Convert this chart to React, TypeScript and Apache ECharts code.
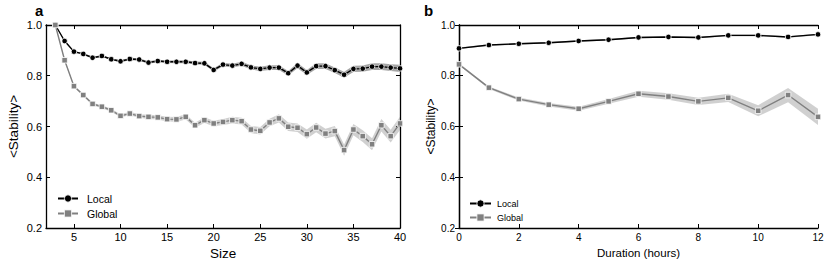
import React, { useEffect, useRef } from "react";
import * as echarts from "echarts";

// ---------- Panel a: stability vs size ----------
const sizeValues = [3, 4, 5, 6, 7, 8, 9, 10, 11, 12, 13, 14, 15, 16, 17, 18, 19, 20, 21, 22, 23, 24, 25, 26, 27, 28, 29, 30, 31, 32, 33, 34, 35, 36, 37, 38, 39, 40];
const localBySize = [1.0, 0.937, 0.895, 0.886, 0.871, 0.878, 0.865, 0.857, 0.866, 0.864, 0.852, 0.858, 0.855, 0.855, 0.855, 0.85, 0.849, 0.823, 0.844, 0.84, 0.847, 0.833, 0.827, 0.832, 0.832, 0.81, 0.84, 0.813, 0.838, 0.838, 0.822, 0.804, 0.827, 0.828, 0.836, 0.836, 0.832, 0.829];
const localBySizeErr = [0.002, 0.003, 0.003, 0.004, 0.004, 0.004, 0.004, 0.004, 0.005, 0.005, 0.005, 0.005, 0.005, 0.006, 0.006, 0.006, 0.006, 0.007, 0.007, 0.007, 0.008, 0.008, 0.008, 0.009, 0.009, 0.009, 0.01, 0.01, 0.011, 0.011, 0.011, 0.012, 0.012, 0.012, 0.013, 0.013, 0.013, 0.014];
const globalBySize = [1.0, 0.861, 0.759, 0.724, 0.689, 0.678, 0.664, 0.642, 0.651, 0.641, 0.638, 0.636, 0.629, 0.628, 0.638, 0.605, 0.625, 0.612, 0.618, 0.625, 0.621, 0.588, 0.583, 0.616, 0.632, 0.599, 0.595, 0.57, 0.596, 0.572, 0.582, 0.507, 0.588, 0.562, 0.53, 0.605, 0.562, 0.612];
const globalBySizeErr = [0.002, 0.004, 0.004, 0.005, 0.005, 0.006, 0.006, 0.006, 0.007, 0.007, 0.008, 0.008, 0.009, 0.009, 0.01, 0.01, 0.011, 0.011, 0.012, 0.013, 0.013, 0.014, 0.015, 0.015, 0.016, 0.017, 0.017, 0.018, 0.019, 0.019, 0.02, 0.022, 0.022, 0.023, 0.024, 0.025, 0.025, 0.026];
const sizeTicks = [5, 10, 15, 20, 25, 30, 35, 40];

// ---------- Panel b: stability vs duration ----------
const durationHours = [0, 1, 2, 3, 4, 5, 6, 7, 8, 9, 10, 11, 12];
const localByDuration = [0.908, 0.921, 0.926, 0.93, 0.937, 0.942, 0.951, 0.953, 0.951, 0.959, 0.959, 0.953, 0.963];
const localByDurationErr = [0.003, 0.003, 0.003, 0.003, 0.003, 0.003, 0.003, 0.003, 0.003, 0.003, 0.003, 0.003, 0.003];
const globalByDuration = [0.845, 0.753, 0.708, 0.686, 0.67, 0.699, 0.729, 0.718, 0.699, 0.713, 0.662, 0.724, 0.638];
const globalByDurationErr = [0.004, 0.005, 0.006, 0.007, 0.008, 0.009, 0.012, 0.013, 0.014, 0.016, 0.022, 0.028, 0.032];

const FONT = "'Liberation Sans', Arial, Helvetica, sans-serif";
const LOCAL_COLOR = "#000000";
const GLOBAL_COLOR = "#808080";

function band(xs: number[], ys: number[], errs: number[], axisIdx: number, fill: string, name: string) {
  return {
    type: "custom",
    name,
    silent: true,
    xAxisIndex: axisIdx,
    yAxisIndex: axisIdx,
    z: 1,
    data: xs.map((x, i) => [x, ys[i] - errs[i], ys[i] + errs[i]]),
    encode: { x: 0, y: [1, 2] },
    renderItem: (params: any, api: any) => {
      if (params.dataIndex !== 0) return null;
      const upper = xs.map((x, i) => api.coord([x, ys[i] + errs[i]]));
      const lower = xs.map((x, i) => api.coord([x, ys[i] - errs[i]])).reverse();
      return {
        type: "polygon",
        shape: { points: upper.concat(lower) },
        style: { fill },
        silent: true,
      };
    },
  };
}

function lineSeries(name: string, xs: number[], ys: number[], axisIdx: number, color: string, symbol: string, size: number) {
  return {
    type: "line",
    name,
    xAxisIndex: axisIdx,
    yAxisIndex: axisIdx,
    data: xs.map((x, i) => [x, ys[i]]),
    symbol,
    symbolSize: size,
    showSymbol: true,
    z: 3,
    lineStyle: { color, width: 1.4 },
    itemStyle: { color, borderColor: "#ffffff", borderWidth: 0.8 },
    emphasis: { disabled: true },
  };
}

const axisLineStyle = { show: true, lineStyle: { color: "#000", width: 1.3 } };

export default function App() {
  const ref = useRef<HTMLDivElement>(null);
  useEffect(() => {
    if (!ref.current) return;
    const chart = echarts.init(ref.current, undefined, { renderer: "svg" });
    const yAxisBase = (gridIndex: number, position: string, showLabel: boolean, fontSize: number, name?: string, nameSize?: number, nameGap?: number) => ({
      type: "value",
      gridIndex,
      position,
      min: 0.2,
      max: 1.0,
      interval: 0.2,
      axisLine: axisLineStyle,
      axisTick: { show: true, inside: true, length: 4, lineStyle: { color: "#000", width: 1 } },
      splitLine: { show: false },
      axisLabel: {
        show: showLabel,
        fontFamily: FONT,
        fontSize,
        color: "#000",
        margin: 4,
        formatter: (v: number) => v.toFixed(1),
      },
      name: name || "",
      nameLocation: "middle",
      nameGap: nameGap || 0,
      nameTextStyle: { fontFamily: FONT, fontSize: nameSize || 12, color: "#000" },
    });
    const legendIcon = { borderColor: "#ffffff", borderWidth: 0.8 };
    const option: any = {
      animation: false,
      backgroundColor: "#ffffff",
      textStyle: { fontFamily: FONT },
      title: [
        { text: "a", left: 35, top: 3, padding: 0, textStyle: { fontFamily: FONT, fontSize: 15, fontWeight: "bold", color: "#000" } },
        { text: "b", left: 424, top: 3, padding: 0, textStyle: { fontFamily: FONT, fontSize: 15, fontWeight: "bold", color: "#000" } },
      ],
      grid: [
        { left: 46, right: 431, top: 25, bottom: 39 },
        { left: 459, right: 13, top: 25, bottom: 39 },
      ],
      legend: [
        {
          left: 52,
          top: 187,
          orient: "vertical",
          itemWidth: 20,
          itemHeight: 9,
          itemGap: 2,
          selectedMode: false,
          itemStyle: legendIcon,
          data: ["Local", "Global"],
          textStyle: { fontFamily: FONT, fontSize: 10.5, color: "#000", lineHeight: 13, padding: [0, 0, 0, 4] },
        },
        {
          left: 464,
          top: 193,
          orient: "vertical",
          itemWidth: 21,
          itemHeight: 9,
          itemGap: 3,
          selectedMode: false,
          itemStyle: legendIcon,
          data: ["Local", "Global"],
          textStyle: { fontFamily: FONT, fontSize: 9, color: "#000", lineHeight: 11, padding: [0, 0, 0, 1] },
        },
      ],
      xAxis: [
        {
          type: "value",
          gridIndex: 0,
          position: "bottom",
          min: 2,
          max: 40,
          axisLine: axisLineStyle,
          axisTick: { show: true, inside: true, length: 4, customValues: sizeTicks, lineStyle: { color: "#000", width: 1 } },
          axisLabel: { show: true, customValues: sizeTicks, fontFamily: FONT, fontSize: 11, color: "#000", margin: 3 },
          splitLine: { show: false },
          name: "Size",
          nameLocation: "middle",
          nameGap: 18,
          nameTextStyle: { fontFamily: FONT, fontSize: 13.5, color: "#000" },
        },
        {
          type: "value",
          gridIndex: 0,
          position: "top",
          min: 2,
          max: 40,
          axisLine: axisLineStyle,
          axisTick: { show: true, inside: true, length: 4, customValues: sizeTicks, lineStyle: { color: "#000", width: 1 } },
          axisLabel: { show: false },
          splitLine: { show: false },
        },
        {
          type: "value",
          gridIndex: 1,
          position: "bottom",
          min: 0,
          max: 12,
          interval: 2,
          axisLine: axisLineStyle,
          axisTick: { show: true, inside: true, length: 4, lineStyle: { color: "#000", width: 1 } },
          axisLabel: { show: true, fontFamily: FONT, fontSize: 10, color: "#000", margin: 4 },
          splitLine: { show: false },
          name: "Duration (hours)",
          nameLocation: "middle",
          nameGap: 19,
          nameTextStyle: { fontFamily: FONT, fontSize: 11.5, color: "#000" },
        },
        {
          type: "value",
          gridIndex: 1,
          position: "top",
          min: 0,
          max: 12,
          interval: 2,
          axisLine: axisLineStyle,
          axisTick: { show: true, inside: true, length: 4, lineStyle: { color: "#000", width: 1 } },
          axisLabel: { show: false },
          splitLine: { show: false },
        },
      ],
      yAxis: [
        yAxisBase(0, "left", true, 11, "<Stability>", 13.5, 26),
        yAxisBase(0, "right", false, 11),
        yAxisBase(1, "left", true, 10, "<Stability>", 12, 20),
        yAxisBase(1, "right", false, 10),
      ],
      series: [
        band(sizeValues, localBySize, localBySizeErr, 0, "rgba(0,0,0,0.35)", "localBandA"),
        band(sizeValues, globalBySize, globalBySizeErr, 0, "rgba(120,120,120,0.35)", "globalBandA"),
        lineSeries("Local", sizeValues, localBySize, 0, LOCAL_COLOR, "circle", 5.5),
        lineSeries("Global", sizeValues, globalBySize, 0, GLOBAL_COLOR, "rect", 5.5),
        band(durationHours, localByDuration, localByDurationErr, 2, "rgba(0,0,0,0.35)", "localBandB"),
        band(durationHours, globalByDuration, globalByDurationErr, 2, "rgba(120,120,120,0.35)", "globalBandB"),
        lineSeries("Local", durationHours, localByDuration, 2, LOCAL_COLOR, "circle", 5.5),
        lineSeries("Global", durationHours, globalByDuration, 2, GLOBAL_COLOR, "rect", 5.5),
      ],
    };
    chart.setOption(option);
    return () => chart.dispose();
  }, []);
  return <div ref={ref} style={{ position: "absolute", left: 0, top: 0, width: 831, height: 267 }} />;
}
